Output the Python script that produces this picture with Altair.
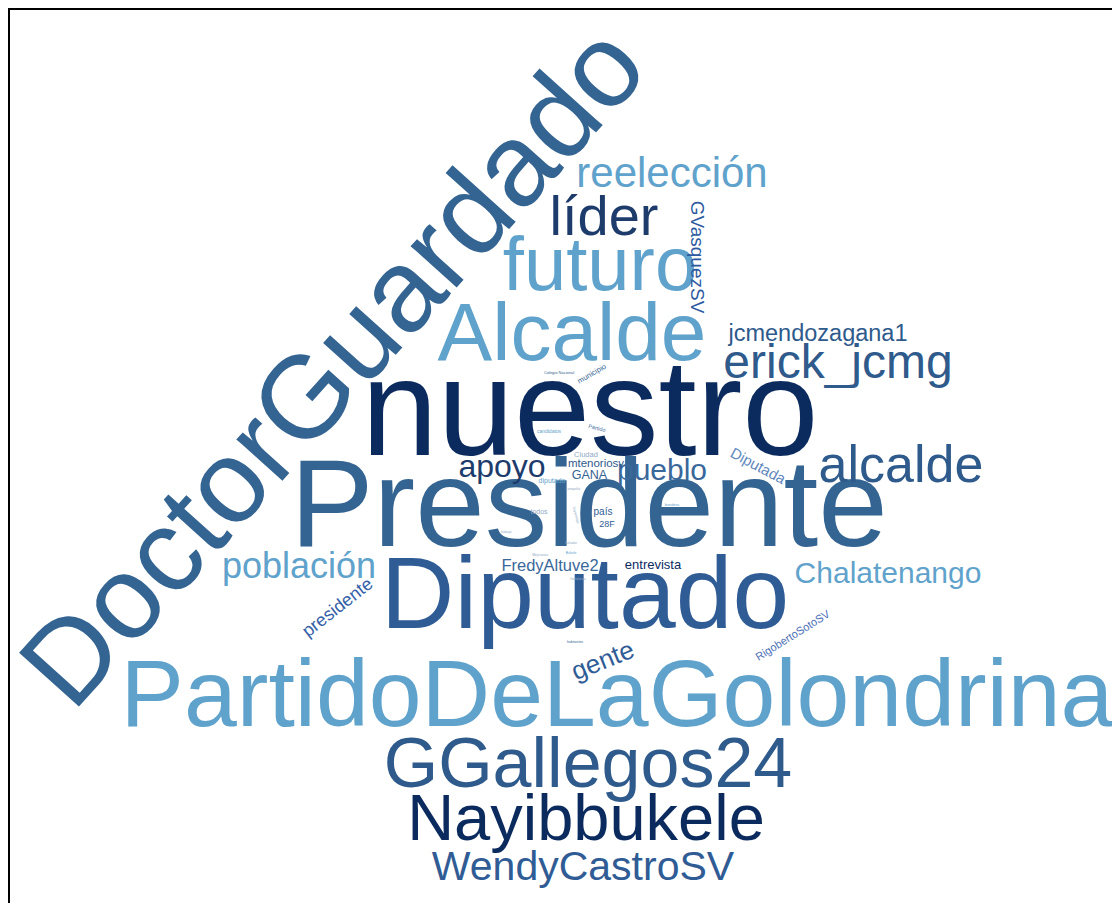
import altair as alt
import pandas as pd

# Word cloud: words, their weights (drawn as font size), layout placement and rotation
words = [
    "nuestro", "Presidente", "DoctorGuardado", "Diputado", "PartidoDeLaGolondrina",
    "Alcalde", "futuro", "GGallegos24", "Nayibbukele", "líder", "alcalde",
    "erick_jcmg", "reelección", "WendyCastroSV", "población", "apoyo", "pueblo",
    "Chalatenango", "gente", "jcmendozagana1", "GVasquezSV", "presidente",
    "FredyAltuve2", "Diputada", "entrevista", "GANA", "mtenoriosv",
    "RigobertoSotoSV", "país", "28F", "municipio", "Ciudad", "diputado", "todos",
    "candidatos", "Partido", "Colegio Nacional", "campaña", "bandera", "Soyapango",
    "trabajo", "Salvador", "Bukele", "Mejicanos", "fortaleza", "habitantes",
]
weight = [
    137, 125, 117, 102, 95,
    82, 76, 70, 65, 56, 52,
    48, 42, 41, 36, 32, 30,
    30, 26, 23.5, 19, 18,
    16.5, 15, 13, 12.5, 11.5,
    11, 10, 9, 7.5, 7.5, 7, 7,
    5, 5.5, 4, 3.5, 4, 3.5,
    3.5, 3, 3.5, 3.5, 4, 3.5,
]
# layout placement of each word (page coordinates of the word centre) and rotation
layout_x = [
    590, 589, 336, 585, 617,
    572, 600, 588, 586, 604, 901,
    838, 672, 583, 299, 502, 662,
    888, 603, 818, 697, 338,
    550, 758, 653, 589.5, 596,
    793, 603, 607, 592, 586, 552, 539,
    549, 597, 559, 573, 672, 576,
    506, 571, 571, 540, 578, 575,
]
layout_y = [
    414, 508, 369, 597, 697,
    335, 267, 766, 820, 218, 466,
    364, 174, 868, 567, 467, 471,
    574, 661, 334, 257, 608,
    566, 466, 565, 475, 464,
    636, 512, 524, 374, 455, 481, 512,
    431, 428, 373, 489, 505, 515,
    532, 543, 553, 555, 579, 642,
]
rotation = [
    0, 0, 312, 0, 0,
    0, 0, 0, 0, 0, 0,
    0, 0, 0, 0, 0, 0,
    0, 338, 0, 90, 322,
    0, 28, 0, 0, 0,
    328, 0, 0, 330, 0, 0, 0,
    0, 15, 0, 0, 0, 75,
    0, 0, 0, 0, 0, 0,
]
shade = [
    "navy", "steel", "steel", "blue", "light",
    "light", "light", "steel2", "navy", "dark", "steel2",
    "steel2", "light", "blue", "light", "dark", "steel3",
    "light", "blue", "steel2", "blue4", "blue5",
    "steel3", "pale", "navy", "steel", "steel2",
    "blue6", "blue", "blue", "steel", "grey", "light", "grey",
    "light", "steel3", "steel", "grey", "light", "grey",
    "grey", "grey", "light", "grey", "grey", "steel",
]
shade_names = ["navy", "dark", "steel", "steel2", "steel3", "blue", "blue4",
               "blue5", "blue6", "pale", "light", "grey"]
shade_colors = ["#0b2b5f", "#1d3c6c", "#346491", "#2e5a8c", "#3a689a", "#305c96",
                "#2c5aa0", "#3560a8", "#4a6eb5", "#5f88bd", "#5fa2cb", "#8fa9c4"]

df = pd.DataFrame({
    "word": words, "weight": weight, "px": layout_x, "py": layout_y,
    "rot": rotation, "shade": shade,
})

W, H = 1104, 895

text = alt.Chart(df).mark_text(
    align="center", baseline="middle", font="Liberation Sans"
).encode(
    x=alt.X("px:Q", scale=alt.Scale(domain=[8, 8 + W]), axis=None),
    y=alt.Y("py:Q", scale=alt.Scale(domain=[8, 8 + H], reverse=True), axis=None),
    text="word:N",
    size=alt.Size("weight:Q", scale=None, legend=None),
    angle=alt.Angle("rot:Q", scale=None),
    color=alt.Color("shade:N", scale=alt.Scale(domain=shade_names, range=shade_colors),
                    legend=None),
)

frame_top = alt.Chart(alt.Data(values=[{}])).mark_rule(
    color="black", strokeWidth=2
).encode(x=alt.value(0), x2=alt.value(W), y=alt.value(1))

frame_left = alt.Chart(alt.Data(values=[{}])).mark_rule(
    color="black", strokeWidth=2
).encode(x=alt.value(1), y=alt.value(0), y2=alt.value(H))

chart = alt.layer(frame_top, frame_left, text).properties(
    width=W, height=H, padding=0, autosize="none"
).configure_view(stroke=None)

chart.save("out.html", embed_options={"renderer": "svg", "actions": False})
